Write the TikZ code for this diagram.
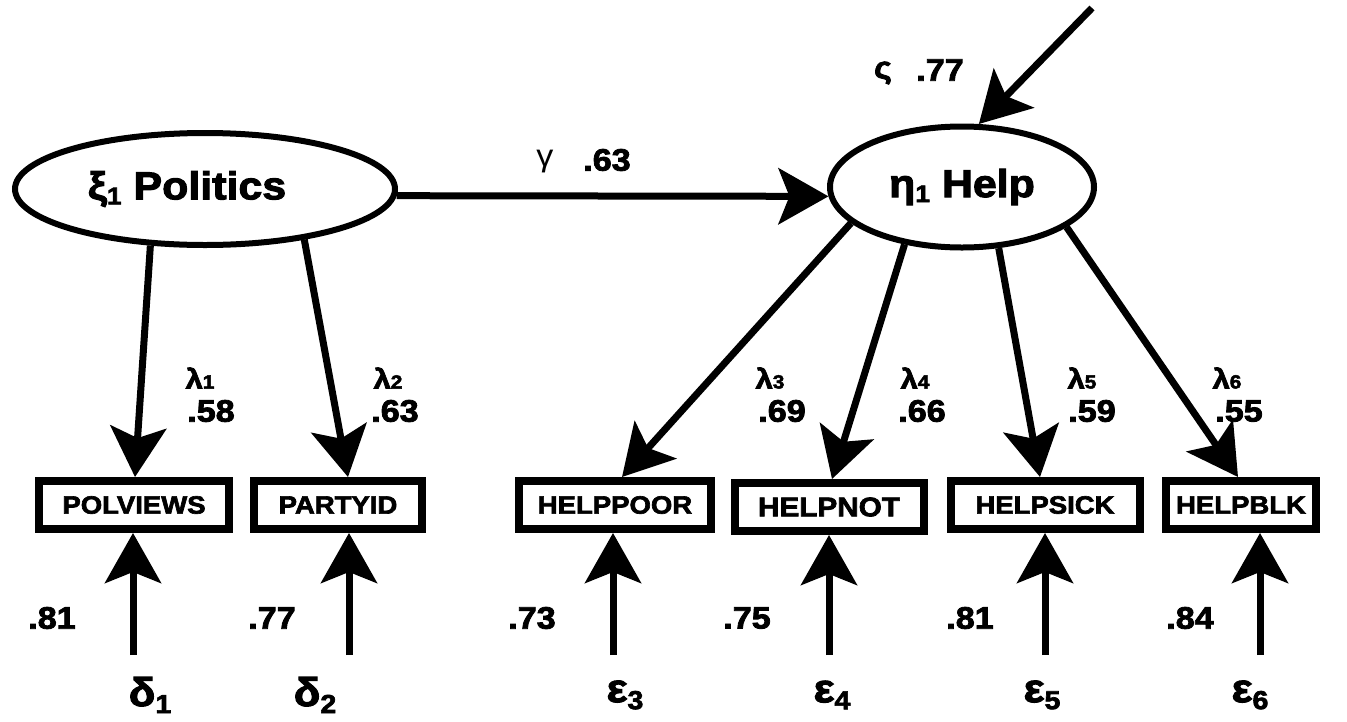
\documentclass[tikz,border=0pt]{standalone}
\usepackage{fontspec}
\setmainfont{Liberation Sans}[FakeStretch=1.1, BoldFeatures={FakeBold=2.6}]
\usetikzlibrary{arrows.meta,shapes.geometric}

\newcommand{\fsz}[1]{\fontsize{#1}{#1}\selectfont}

\begin{document}
\begin{tikzpicture}[x=1pt,y=-1pt,
  latent/.style={ellipse, draw, line width=6pt, inner sep=0pt,
    font=\bfseries\fsz{39}},
  observed/.style={rectangle, draw, line width=8pt, inner sep=0pt,
    minimum height=48pt, font=\bfseries\fsz{25}},
  path/.style={line width=7pt,
    -{Stealth[length=50pt, width=56pt, inset=11pt]}},
  coef/.style={font=\bfseries\fsz{31}, inner sep=0pt},
  lam/.style={font=\bfseries\fsz{28}, inner sep=0pt},
  greek/.style={font=\fsz{31}, inner sep=0pt},
  err/.style={font=\bfseries\fsz{40}, inner sep=0pt}
]
\useasboundingbox (0,0) rectangle (1347,721);

% latent variables
\node[latent, minimum width=380pt, minimum height=112pt] (politics) at (205,189)
  {ξ\raisebox{-5pt}{\fsz{24}1} Politics\rule{36pt}{0pt}};
\node[latent, minimum width=264pt, minimum height=121pt] (help) at (962,187)
  {η\raisebox{-5pt}{\fsz{24}1} Help};

% observed indicators
\node[observed, minimum width=190pt] (polviews) at (134,505) {POLVIEWS};
\node[observed, minimum width=168pt] (partyid)  at (338,505) {PARTYID};
\node[observed, minimum width=192pt] (helppoor) at (615,505) {HELPPOOR};
\node[observed, minimum width=189pt, font=\bfseries\fsz{27}] (helpnot) at (829,507) {HELPNOT};
\node[observed, minimum width=189pt] (helpsick) at (1045,505) {HELPSICK};
\node[observed, minimum width=150pt] (helpblk)  at (1241,505) {HELPBLK};

% structural path
\draw[path] (politics.-2) -- (help.184);
\node[greek] (gam) at (545,162) {γ};
\node[coef] (gamv) at (607,160) {.63};

% disturbance
\coordinate (zsrc) at (1092,8);
\draw[path] (zsrc) -- (help.75.5);
\node[greek, font=\bfseries\fsz{31}] (zet) at (883,73) {ς};
\node[coef] (zetv) at (940,70) {.77};

% loadings
\draw[path] (politics.226) -- ([xshift=1pt]polviews.north);
\draw[path] (politics.333) -- ([xshift=10pt]partyid.north);
\draw[path] (help.198.4) -- ([xshift=7pt]helppoor.north);
\draw[path] (help.225.5) -- ([xshift=3pt]helpnot.north);
\draw[path] (help.301) -- ([xshift=-5pt]helpsick.north);
\draw[path] (help.339.7) -- ([xshift=-3pt]helpblk.north);

\node[lam] (l1) at (200,378) {λ\fsz{19}1};
\node[lam] (l2) at (388,378) {λ\fsz{19}2};
\node[lam] (l3) at (770,378) {λ\fsz{19}3};
\node[lam] (l4) at (915,378) {λ\fsz{19}4};
\node[lam] (l5) at (1082,378) {λ\fsz{19}5};
\node[lam] (l6) at (1227,378) {λ\fsz{19}6};

\node[coef] (c1) at (211,411) {.58};
\node[coef] (c2) at (395,411) {.63};
\node[coef] (c3) at (782,411) {.69};
\node[coef] (c4) at (922,411) {.66};
\node[coef] (c5) at (1092,411) {.59};
\node[coef] (c6) at (1239,411) {.55};

% measurement errors
\coordinate (e1) at (133,655);
\coordinate (e2) at (349,655);
\coordinate (e3) at (613,655);
\coordinate (e4) at (829,655);
\coordinate (e5) at (1045,655);
\coordinate (e6) at (1260,655);
\draw[path] (e1) -- (e1 |- polviews.south);
\draw[path] (e2) -- (e2 |- partyid.south);
\draw[path] (e3) -- (e3 |- helppoor.south);
\draw[path] (e4) -- (e4 |- helpnot.south);
\draw[path] (e5) -- (e5 |- helpsick.south);
\draw[path] (e6) -- (e6 |- helpblk.south);

\node[coef] (v1) at (52,618) {.81};
\node[coef] (v2) at (272,618) {.77};
\node[coef] (v3) at (532,618) {.73};
\node[coef] (v4) at (747,618) {.75};
\node[coef] (v5) at (970,618) {.81};
\node[coef] (v6) at (1190,618) {.84};

\node[err] (d1) at (150,695) {δ\raisebox{-7pt}{\fsz{26}1}};
\node[err] (d2) at (315,695) {δ\raisebox{-7pt}{\fsz{26}2}};
\node[err] (d3) at (625,695) {ε\raisebox{-7pt}{\fsz{26}3}};
\node[err] (d4) at (832,695) {ε\raisebox{-7pt}{\fsz{26}4}};
\node[err] (d5) at (1042,695) {ε\raisebox{-7pt}{\fsz{26}5}};
\node[err] (d6) at (1250,695) {ε\raisebox{-7pt}{\fsz{26}6}};
\end{tikzpicture}
\end{document}
